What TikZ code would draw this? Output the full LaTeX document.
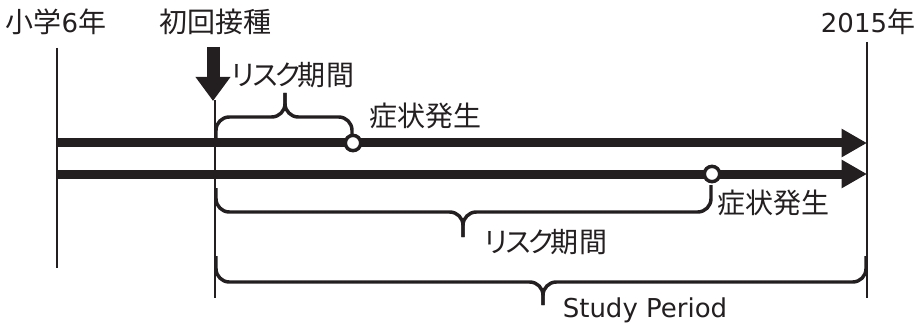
\documentclass[tikz,border=0pt]{standalone}
\usepackage{fontspec}
\setmainfont{Noto Sans CJK JP}
\newfontfamily\lat{DejaVu Sans}
\usetikzlibrary{arrows.meta}
\definecolor{ink}{HTML}{231F20}
\newcommand{\riskterm}{リ\kern-4.5ptス\kern-4ptク\kern-3.5pt期\kern0.5pt間}
\begin{document}
\begin{tikzpicture}[x=0.75pt,y=-0.75pt,
  thinline/.style={line width=0.9pt, draw=ink},
  timeline/.style={line width=6.75pt, draw=ink, -{Triangle[length=19pt,width=20pt]}},
  bracepath/.style={line width=2.6pt, draw=ink, rounded corners=10pt},
  event/.style={circle, draw=ink, line width=2.6pt, fill=white, minimum size=11.5pt, inner sep=0pt},
  lbl/.style={inner sep=0pt, text=ink, font=\fontsize{21}{25}\selectfont},
  latlbl/.style={inner sep=0pt, text=ink, font=\lat\fontsize{19.5}{23}\selectfont},
  downarrow/.style={line width=9.75pt, draw=ink, -{Triangle[length=18pt,width=25pt]}}
]
\useasboundingbox (0,0) rectangle (920,324);

% labels
\node[lbl] (grade6) at (56,22) {小学{\lat\fontsize{19.5}{23}\selectfont 6}年};
\node[lbl] (firstvac) at (215,22) {初回接種};
\node[lbl] (y2015) at (868,22) {{\lat\fontsize{19.5}{23}\selectfont 2015}年};

% vertical guide lines
\coordinate (l1t) at (57,48);  \coordinate (l1b) at (57,268);
\coordinate (l2t) at (215,100); \coordinate (l2b) at (215,298);
\coordinate (l3t) at (867,42); \coordinate (l3b) at (867,298);
\draw[thinline] (l1t) -- (l1b);
\draw[thinline] (l2t) -- (l2b);
\draw[thinline] (l3t) -- (l3b);

% down arrow
\coordinate (dat) at (213,47); \coordinate (dab) at (213,101);
\draw[downarrow] (dat) -- (dab);

% timelines
\coordinate (a1s) at (57,143); \coordinate (a1e) at (867,143);
\coordinate (a2s) at (57,174); \coordinate (a2e) at (867,174);
\draw[timeline] (a1s) -- (a1e);
\draw[timeline] (a2s) -- (a2e);

% top brace
\coordinate (b1s) at (216,141); \coordinate (b1t) at (285,93); \coordinate (b1e) at (352,137);
\draw[bracepath] (b1s) -- (b1s |- 0,117) -- (b1t |- 0,117) -- (b1t);
\draw[bracepath] (b1t) -- (b1t |- 0,117) -- (b1e |- 0,117) -- (b1e);

% events
\node[event] (ev1) at (353,143) {};
\node[event] (ev2) at (712,174) {};

\node[lbl] (risk1) at (292,75) {\riskterm};
\node[lbl] (onset1) at (425,116) {症状発生};

% second brace
\coordinate (b2s) at (216,188); \coordinate (b2t) at (463,237); \coordinate (b2e) at (711,185);
\draw[bracepath] (b2s) -- (b2s |- 0,212) -- (b2t |- 0,212) -- (b2t);
\draw[bracepath] (b2t) -- (b2t |- 0,212) -- (b2e |- 0,212) -- (b2e);

\node[lbl] (onset2) at (773,203) {症状発生};
\node[lbl] (risk2) at (545,242) {\riskterm};

% study period brace
\coordinate (b3s) at (216,256); \coordinate (b3t) at (543,305); \coordinate (b3e) at (866,256);
\draw[bracepath] (b3s) -- (b3s |- 0,282) -- (b3t |- 0,282) -- (b3t);
\draw[bracepath] (b3t) -- (b3t |- 0,282) -- (b3e |- 0,282) -- (b3e);

\node[latlbl] (study) at (645,310) {Study Period};
\end{tikzpicture}
\end{document}
